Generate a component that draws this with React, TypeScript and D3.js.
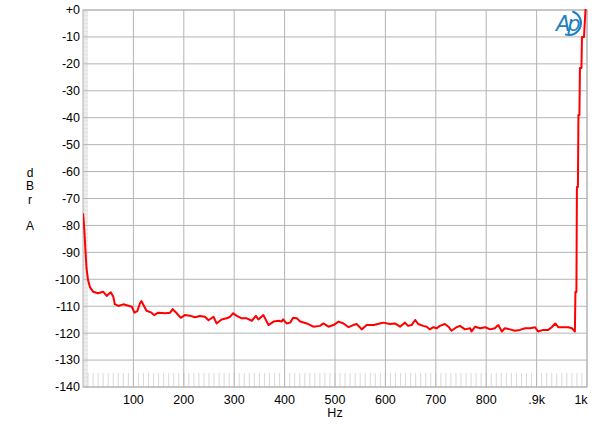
import React from "react";
import * as d3 from "d3";

const freqHz: number[] = [0,1,3,5,7,10,14,20,30,40,47,55,60,63,70,80,90,97,102,108,113,116,121,126,136,141,149,163,173,178,186,194,202,212,222,232,242,249,259,265,275,285,292,298,305,315,325,335,343,348,358,368,378,388,394,397,404,411,417,424,431,444,457,470,477,487,497,507,517,527,536,543,553,563,577,589,596,609,619,629,639,645,652,659,665,675,682,688,695,702,708,718,725,731,741,748,758,768,771,778,788,798,808,817,824,831,837,847,857,867,877,887,897,903,913,923,930,937,943,953,963,970,973,976,977,979,980,982,983,985,986,989,990,994,997,1000];
const levelDbr: number[] = [-75.5,-77.4,-82.9,-89.7,-95.9,-100.3,-103,-104.6,-105.2,-104.6,-106.2,-104.8,-106.4,-109.2,-109.9,-109.3,-109.8,-110.2,-112.4,-111.8,-108.9,-108.1,-109.9,-111.7,-112.4,-113.3,-112.4,-112.6,-112.4,-111.1,-112.6,-114.3,-113.3,-113.5,-114.1,-113.6,-113.9,-115.2,-113.9,-116.4,-114.9,-114.5,-113.9,-112.6,-113.6,-114.5,-114.5,-115.4,-113.6,-114.9,-113.3,-117,-115.7,-115.4,-115.7,-114.9,-116.4,-116.1,-114.3,-114.5,-115.7,-116.4,-117.6,-117.3,-116.4,-117.6,-117,-115.7,-116.4,-117.8,-117,-116.6,-118.6,-117,-117,-116.4,-116.1,-116.6,-116.4,-117.6,-116.1,-117.3,-117,-115.1,-116.6,-117.3,-117.6,-118.6,-117.8,-118.2,-117.3,-116.6,-117.6,-119.1,-117.8,-117.3,-118.6,-118.2,-119.4,-117.6,-118.2,-117.8,-118.6,-118.2,-117,-119.4,-118.2,-118.6,-119.1,-118.8,-118.2,-118.2,-117.8,-119.4,-118.8,-118.8,-117.8,-116.4,-117.8,-117.8,-117.8,-118.2,-118.8,-119.4,-104.7,-104.7,-65.7,-65.7,-39,-39,-21.5,-21.5,-10,-10,0,4];

const xTickValues: number[] = [100,200,300,400,500,600,700,800,900,1000];
const xTickLabels: string[] = ["100","200","300","400","500","600","700","800",".9k","1k"];
const yTickValues: number[] = [0,-10,-20,-30,-40,-50,-60,-70,-80,-90,-100,-110,-120,-130,-140];
const yTickLabels: string[] = ["+0","-10","-20","-30","-40","-50","-60","-70","-80","-90","-100","-110","-120","-130","-140"];
const yTitleLetters: string[] = ["d","B","r","","A"];
const xTitle = "Hz";

const W = 600, H = 429;
const L = 83, R = 587, T = 10, B = 387;

export default function App() {
  const x = d3.scaleLinear().domain([0, 1000]).range([L, R]);
  const y = d3.scaleLinear().domain([-140, 0]).range([B, T]);
  const pts: [number, number][] = freqHz.map((f, i) => [f, levelDbr[i]]);
  const line = d3.line<[number, number]>().x(d => x(d[0])).y(d => y(d[1]));
  const minorX = d3.range(10, 1000, 10);
  const minorY = d3.range(-140, 0, 0.5);
  const font = "'Liberation Sans', Arial, sans-serif";
  const gridColor = "#b4b4b4";
  const cx = 569, cy = 23, r = 12;
  const a0 = (-70 * Math.PI) / 180, a1 = (105 * Math.PI) / 180;
  const arcD = `M ${cx + r * Math.cos(a0)} ${cy + r * Math.sin(a0)} A ${r} ${r} 0 0 1 ${cx + r * Math.cos(a1)} ${cy + r * Math.sin(a1)}`;
  return (
    <svg width={W} height={H} style={{ position: "absolute", left: 0, top: 0, background: "#fff" }} fontFamily={font}>
      <defs>
        <clipPath id="plotclip"><rect x={L} y={T - 1} width={R - L} height={B - T + 1} /></clipPath>
      </defs>
      <rect x={0} y={0} width={W} height={H} fill="#fff" />
      {minorX.map(v => (
        <line key={"mx" + v} x1={x(v)} x2={x(v)} y1={B - 14} y2={B} stroke="#cfcfcf" strokeWidth={0.8} />
      ))}
      {minorY.map(v => (
        <line key={"my" + v} x1={L} x2={L + 5} y1={y(v)} y2={y(v)} stroke="#cfcfcf" strokeWidth={0.6} />
      ))}
      {xTickValues.map(v => (
        <line key={"gx" + v} x1={x(v)} x2={x(v)} y1={T} y2={B} stroke={gridColor} strokeWidth={1} />
      ))}
      {yTickValues.map(v => (
        <line key={"gy" + v} x1={L} x2={R} y1={y(v)} y2={y(v)} stroke={gridColor} strokeWidth={1} />
      ))}
      <rect x={L} y={T} width={R - L} height={B - T} fill="none" stroke={gridColor} strokeWidth={1} />
      <path d={line(pts) || ""} fill="none" stroke="#ff0000" strokeWidth={2} strokeLinejoin="round" clipPath="url(#plotclip)" />
      {yTickValues.map((v, i) => (
        <text key={"yl" + v} x={L - 3} y={y(v)} dy="0.35em" textAnchor="end" fontSize={12.5} fill="#000">{yTickLabels[i]}</text>
      ))}
      {xTickValues.map((v, i) => (
        <text key={"xl" + v} x={v === 1000 ? x(v) - 6 : x(v)} y={B + 17} textAnchor="middle" fontSize={12.5} fill="#000">{xTickLabels[i]}</text>
      ))}
      <text x={335} y={417} textAnchor="middle" fontSize={12.5} fill="#000">{xTitle}</text>
      {yTitleLetters.map((c, i) => (
        <text key={"yt" + i} x={30} y={177 + i * 13.3} textAnchor="middle" fontSize={12} fill="#000">{c}</text>
      ))}
      <g>
        <text x={556} y={31} fontSize={21} fontStyle="italic" fill="#1f7fc0" fontFamily="'DejaVu Sans', sans-serif" letterSpacing={-3}>Ap</text>
        <path d={arcD} fill="none" stroke="#1f7fc0" strokeWidth={2} strokeLinecap="round" />
      </g>
    </svg>
  );
}
